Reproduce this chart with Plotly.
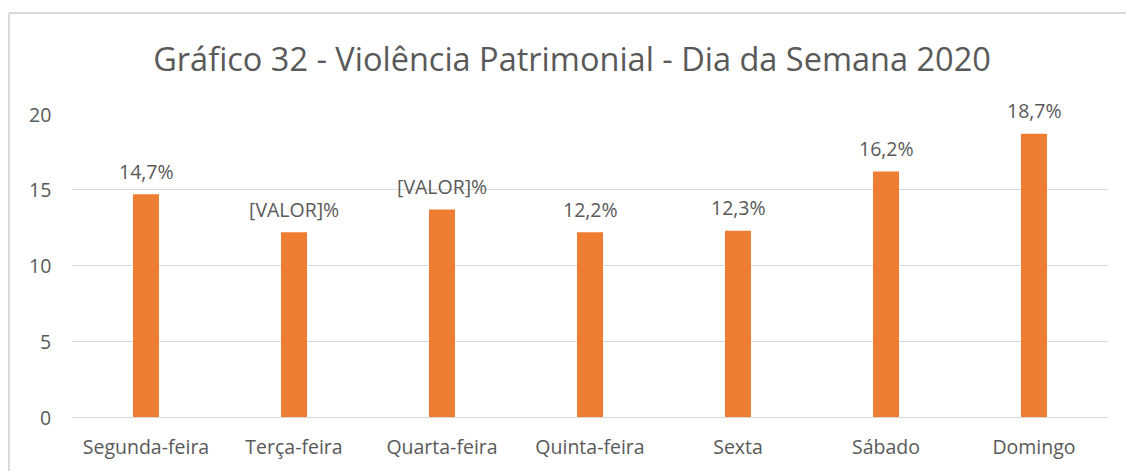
import plotly.graph_objects as go

categories = ["Segunda-feira", "Terça-feira", "Quarta-feira", "Quinta-feira", "Sexta", "Sábado", "Domingo"]
values = [14.7, 12.2, 13.7, 12.2, 12.3, 16.2, 18.7]
labels = ["14,7%", "[VALOR]%", "[VALOR]%", "12,2%", "12,3%", "16,2%", "18,7%"]
y_ticks = [0, 5, 10, 15, 20]

FONT = "Open Sans"
GRAY = "#595959"
W, H = 1126, 471
L, R, T, B = 72, 18, 114, 54
PW, PH = W - L - R, H - T - B

fig = go.Figure()
fig.add_trace(go.Bar(
    x=categories, y=values,
    marker=dict(color="#ED7D31", line=dict(width=0)),
    width=0.176,
    hoverinfo="skip",
))

for c, v, t in zip(categories, values, labels):
    fig.add_annotation(x=c, y=v, text=t, showarrow=False, yanchor="middle",
                       yshift=23, font=dict(family=FONT, size=19.5, color=GRAY))

# y tick labels placed right-aligned at a fixed pixel column
for v in y_ticks:
    fig.add_annotation(xref="paper", x=(53 - L) / PW, xanchor="right",
                       yref="y", y=v, yanchor="middle", text=str(v),
                       showarrow=False, font=dict(family=FONT, size=19.5, color=GRAY))

bx0 = (9 - L) / PW
by1 = 1 + (T - 13) / PH
fig.update_layout(
    width=W, height=H,
    margin=dict(l=L, r=R, t=T, b=B),
    paper_bgcolor="white", plot_bgcolor="white",
    showlegend=False,
    title=dict(text="Gráfico 32 - Violência Patrimonial - Dia da Semana 2020",
               x=572 / W, xanchor="center", y=1 - 60 / H, yanchor="middle",
               font=dict(family=FONT, size=32.5, color=GRAY)),
    xaxis=dict(showgrid=False, showline=False, ticks="",
               tickfont=dict(family=FONT, size=19.5, color=GRAY),
               ticklabelstandoff=16),
    yaxis=dict(range=[0, 20], tickvals=y_ticks, showgrid=True,
               gridcolor="#d9d9d9", gridwidth=1, zeroline=True,
               zerolinecolor="#d9d9d9", zerolinewidth=1, showline=False,
               ticks="", showticklabels=False),
    shapes=[
        dict(type="line", xref="paper", yref="paper",
             x0=bx0, x1=(W + 20 - L) / PW, y0=by1, y1=by1,
             line=dict(color="#d9d9d9", width=2), layer="below"),
        dict(type="line", xref="paper", yref="paper",
             x0=bx0, x1=bx0, y0=by1, y1=-(B + 20) / PH,
             line=dict(color="#d9d9d9", width=2), layer="below"),
    ],
)

fig.write_html("out.html",
               config={"displayModeBar": False},
               post_script="document.body.style.margin='0';document.body.style.overflow='hidden';")
